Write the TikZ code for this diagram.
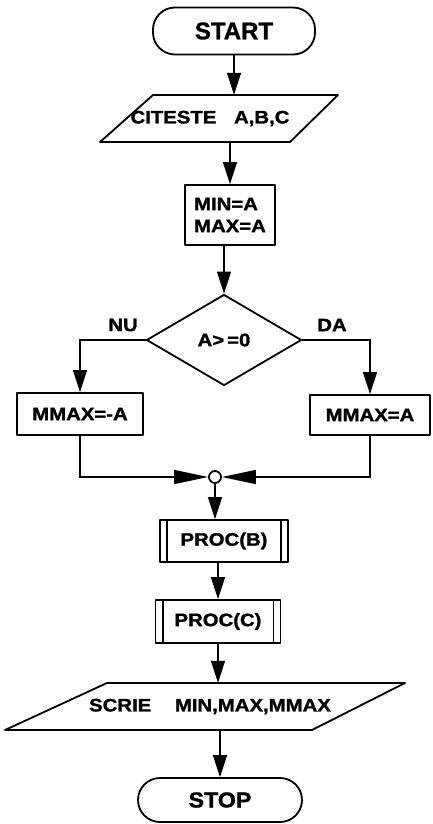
\documentclass[tikz,border=0pt]{standalone}
\usepackage{fontspec}
\setmainfont{Liberation Sans}[BoldFeatures={FakeBold=1.2}]
\newfontfamily\wfnt{Liberation Sans}[FakeStretch=1.13, BoldFeatures={FakeBold=1.5}]
\newfontfamily\stopfnt{Liberation Sans}[FakeStretch=1.08, BoldFeatures={FakeBold=1.5}]
\usetikzlibrary{shapes.geometric,arrows.meta,calc}
\tikzset{
  tf/.style={font=\wfnt\bfseries\fontsize{18}{22}\selectfont},
  shp/.style={line width=1.8pt, line join=round},
  box/.style={draw, shp, rectangle, inner sep=2pt, tf},
  term/.style={box, rounded corners=22pt},
  plain/.style={inner sep=0pt, tf},
  arr/.style={line width=1.3pt, -{Triangle[length=22pt,width=14pt]}},
  arrj/.style={line width=1.3pt, -{Triangle[length=34pt,width=14pt]}},
}
\begin{document}
\begin{tikzpicture}[x=1pt,y=-1pt]
\useasboundingbox (0,0) rectangle (432,824);
% START
\node[term, minimum width=162pt, minimum height=47pt, font=\bfseries\fontsize{24}{28}\selectfont] (start) at (234,31) {START};
% read
\node[plain, minimum height=47pt] (read) at (210,118.5) {CITESTE\hspace{12pt} A,B,C};
\draw[shp] (153,95) -- (338,95) -- (290,142) -- (100,142) -- cycle;
% init
\node[box, minimum width=90pt, minimum height=60pt, align=left] (init) at (230,215) {MIN=A\\MAX=A};
% condition
\node[draw, shp, diamond, aspect=1.7, minimum width=155pt, minimum height=91pt, inner sep=1pt, tf] (cond) at (224,340) {A>\,=0};
\node[plain] (nu) at (123,325) {NU};
\node[plain] (da) at (332,325) {DA};
% branches
\node[box, minimum width=126pt, minimum height=42pt] (b1) at (80,414) {MMAX=-A};
\node[box, minimum width=120pt, minimum height=40pt] (b2) at (370,415) {MMAX=A};
% junction
\node[draw, shp, circle, minimum size=12pt, inner sep=0pt] (j) at (215,477) {};
% procedures
\node[box, minimum width=128pt, minimum height=42pt] (pb) at (224,541) {PROC(B)};
\draw[shp] ($(pb.north west)+(8,0)$) -- ($(pb.south west)+(8,0)$);
\draw[shp] ($(pb.north east)+(-8,0)$) -- ($(pb.south east)+(-8,0)$);
\node[box, minimum width=125pt, minimum height=43pt] (pc) at (218,621.5) {PROC(C)};
\draw[shp] ($(pc.north west)+(8,0)$) -- ($(pc.south west)+(8,0)$);
\draw[shp] ($(pc.north east)+(-8,0)$) -- ($(pc.south east)+(-8,0)$);
% write
\node[plain, minimum height=47pt] (wr) at (210,706.5) {SCRIE\hspace{18pt} MIN,MAX,MMAX};
\draw[shp] (107,683) -- (405,683) -- (312,730) -- (5,730) -- cycle;
% STOP
\node[term, minimum width=164pt, minimum height=44pt, font=\stopfnt\bfseries\fontsize{21.5}{25}\selectfont] (stop) at (220,800) {STOP};
% connectors
\draw[arr] (start.south) -- (start.south |- read.north);
\draw[arr] (init.north |- read.south) -- (init.north);
\draw[arr] (cond.north |- init.south) -- (cond.north);
\draw[arr] (cond.west) -| (b1.north);
\draw[arr] (cond.east) -| (b2.north);
\draw[arrj] (b1.south) |- (j.west);
\draw[arrj] (b2.south) |- (j.east);
\draw[arr] (j.south) -- (j.south |- pb.north);
\draw[arr] (pc.north |- pb.south) -- (pc.north);
\draw[arr] (pc.south) -- (pc.south |- wr.north);
\draw[arr] (stop.north |- wr.south) -- (stop.north);
\end{tikzpicture}
\end{document}
